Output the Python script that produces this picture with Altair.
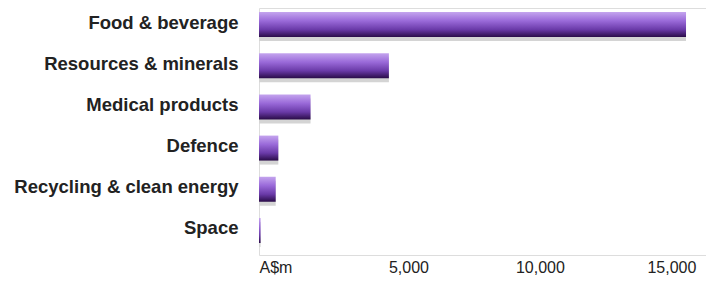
import altair as alt
import pandas as pd

categories = ["Food & beverage", "Resources & minerals", "Medical products",
              "Defence", "Recycling & clean energy", "Space"]
values = [16240, 4940, 1960, 735, 635, 60]
tick_values = [0, 5000, 10000, 15000]

df = pd.DataFrame({"sector": categories, "value": values})

grad = alt.LinearGradient(
    gradient="linear", x1=0, y1=0, x2=0, y2=1,
    stops=[
        alt.GradientStop(color="#c4a4ee", offset=0),
        alt.GradientStop(color="#9a6ad9", offset=0.35),
        alt.GradientStop(color="#6a3aa8", offset=0.7),
        alt.GradientStop(color="#2a0c48", offset=1),
    ],
)

x_enc = alt.X(
    "value:Q",
    scale=alt.Scale(domain=[0, 17000], nice=False, zero=True),
    axis=alt.Axis(
        values=tick_values, title=None, grid=False, domain=False, ticks=False,
        labelExpr="datum.value == 0 ? 'A$m' : format(datum.value, ',')",
        labelFont="Liberation Sans", labelFontSize=16, labelColor="#222222",
        labelPadding=4,
        labelAlign={"condition": {"test": "datum.value == 0", "value": "left"}, "value": "center"},
        labelOffset={"condition": {"test": "datum.value == 0", "value": 0}, "value": 18},
    ),
)
y_enc = alt.Y(
    "sector:N", sort=categories,
    scale=alt.Scale(paddingInner=0, paddingOuter=0),
    axis=alt.Axis(
        title=None, domain=False, ticks=False, grid=False,
        labelFont="Liberation Sans", labelFontSize=18.5, labelFontWeight="bold",
        labelColor="#222222", labelPadding=21, minExtent=251, labelOffset=-6,
        labelLimit=400,
    ),
)

shadow = alt.Chart(df).mark_bar(size=25, color="#d4d4d4", yOffset=0).encode(x=x_enc, y=y_enc)
bars = alt.Chart(df).mark_bar(size=25, color=grad, yOffset=-4).encode(x=x_enc, y=y_enc)

chart = alt.layer(shadow, bars).properties(
    width=447, height=247, padding={"left": 0, "top": 0, "right": 0, "bottom": 0}
).configure_view(stroke=None).configure(background="#ffffff")

chart.save("out.html", embed_options={"renderer": "svg", "actions": False})
